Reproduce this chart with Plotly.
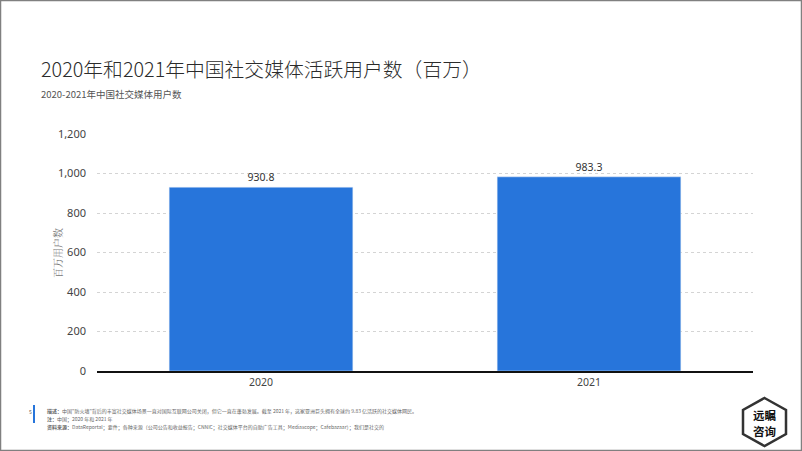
import plotly.graph_objects as go

years = ["2020", "2021"]
users = [930.8, 983.3]
y_ticks = [0, 200, 400, 600, 800, 1000, 1200]

W, H = 802, 451
L, R, T, B = 97, 753, 134, 371

def px(x):
    return (x - L) / (R - L)

def py(y):
    return (B - y) / (B - T)

fig = go.Figure()
fig.add_trace(go.Bar(
    x=years, y=users, marker_color="#2775db", width=0.56,
    text=[f"{v:.1f}" for v in users], textposition="outside",
    textfont=dict(size=10.5, color="#333333", family="Noto Sans, Noto Sans CJK SC"),
    cliponaxis=False,
))

cjk = "Noto Sans CJK SC"
annotations = [
    dict(text="2020年和2021年中国社交媒体活跃用户数（百万）", x=px(39), y=py(68), xref="paper", yref="paper",
         xanchor="left", yanchor="middle", showarrow=False,
         font=dict(size=19.8, color="#2b2b2b", family=cjk, weight=300)),
    dict(text="2020-2021年中国社交媒体用户数", x=px(39), y=py(94), xref="paper", yref="paper",
         xanchor="left", yanchor="middle", showarrow=False,
         font=dict(size=9.5, color="#555555", family=cjk)),
    dict(text="百万用户数", x=px(57), y=py(253), xref="paper", yref="paper",
         xanchor="center", yanchor="middle", showarrow=False, textangle=-90,
         font=dict(size=10, color="#777777", family="Noto Serif CJK SC, DejaVu Serif, serif")),
    dict(text="5", x=px(30), y=py(411), xref="paper", yref="paper",
         xanchor="center", yanchor="middle", showarrow=False,
         font=dict(size=5, color="#555555", family=cjk)),
    dict(text="<b>描述：</b>中国\"防火墙\"背后的丰富社交媒体场景一直对国际互联网公司关闭，但它一直在蓬勃发展。截至 2021 年，这家亚洲巨头拥有全球约 9.83 亿活跃的社交媒体网民。",
         x=px(45), y=py(411), xref="paper", yref="paper",
         xanchor="left", yanchor="middle", showarrow=False,
         font=dict(size=5, color="#666666", family=cjk)),
    dict(text="<b>注：</b>中国；2020 年和 2021 年",
         x=px(45), y=py(419), xref="paper", yref="paper",
         xanchor="left", yanchor="middle", showarrow=False,
         font=dict(size=5, color="#666666", family=cjk)),
    dict(text="<b>资料来源：</b>DataReportal；要件；各种来源（公司公告和收益报告；CNNIC；社交媒体平台的自助广告工具；Mediascope；Cafebazaar）；我们是社交的",
         x=px(45), y=py(427), xref="paper", yref="paper",
         xanchor="left", yanchor="middle", showarrow=False,
         font=dict(size=5, color="#666666", family=cjk)),
    dict(text="<b>远瞩</b>", x=px(764.5), y=py(415), xref="paper", yref="paper",
         xanchor="center", yanchor="middle", showarrow=False,
         font=dict(size=11.5, color="#111111", family=cjk)),
    dict(text="<b>咨询</b>", x=px(764.5), y=py(431), xref="paper", yref="paper",
         xanchor="center", yanchor="middle", showarrow=False,
         font=dict(size=11.5, color="#111111", family=cjk)),
]

# hexagon logo path
hx = [(764.5, 398), (786, 410), (786, 434), (764.5, 446), (743, 434), (743, 410)]
path = "M " + " L ".join(f"{px(a)},{py(b)}" for a, b in hx) + " Z"

shapes = [
    dict(type="rect", xref="paper", yref="paper", x0=px(0.5), x1=px(801.5), y0=py(0.5), y1=py(450.5),
         line=dict(color="#808080", width=1.5), layer="below"),
    dict(type="line", xref="paper", yref="paper", x0=px(34), x1=px(34), y0=py(405), y1=py(423),
         line=dict(color="#2775db", width=2)),
    dict(type="path", xref="paper", yref="paper", path=path,
         line=dict(color="#333333", width=2.5), fillcolor="rgba(0,0,0,0)"),
]

fig.update_layout(
    width=W, height=H,
    margin=dict(l=L, r=W - R, t=T, b=H - B),
    paper_bgcolor="white", plot_bgcolor="white",
    showlegend=False,
    annotations=annotations, shapes=shapes,
    bargap=0.44,
    xaxis=dict(showgrid=False, showline=True, linecolor="#111111", linewidth=2,
               tickfont=dict(size=10.5, color="#444444", family="Noto Sans"),
               ticks="", fixedrange=True),
    yaxis=dict(range=[0, 1200], tickvals=y_ticks, tickformat=",",
               showgrid=True, gridcolor="#d4d4d4", griddash="dot", gridwidth=1,
               zeroline=False, showline=False, ticks="", ticklabelstandoff=10,
               tickfont=dict(size=11, color="#444444", family="Noto Sans")),
)

fig.write_html("out.html")
